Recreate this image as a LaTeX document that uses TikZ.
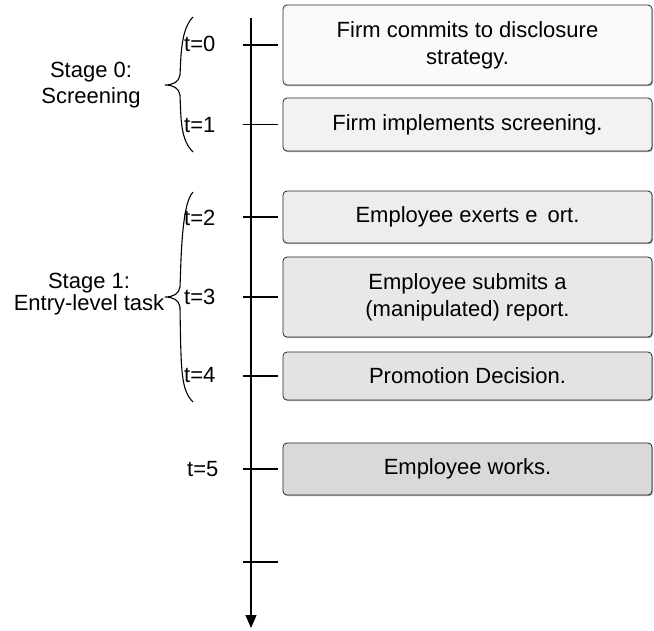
\documentclass[tikz,border=0pt]{standalone}
\usepackage{fontspec}
\setmainfont{Liberation Sans}
\usetikzlibrary{arrows.meta,shadows}
\tikzset{
  event/.style={draw=black!85, line width=0.8pt, rounded corners=4pt,
    minimum width=369pt, align=center, inner sep=0pt,
    font=\fontsize{22}{27}\selectfont,
    drop shadow={shadow xshift=1pt,shadow yshift=-1.2pt,fill=black!55,opacity=0.6}},
  tickline/.style={line width=1.3pt},
  stagebrace/.style={line width=1.1pt},
  time/.style={anchor=west, inner sep=0pt}
}
% curly brace: x of the ends, top, tip, bottom
\newcommand{\stagebrace}[4]{%
  \draw[stagebrace] (#1,#2) .. controls (#1-12,#2+12) and (#1-12,#3-30) .. (#1-13,#3-10)
    .. controls (#1-14,#3-3) and (#1-20,#3) .. (#1-28,#3)
    .. controls (#1-20,#3) and (#1-14,#3+3) .. (#1-13,#3+10)
    .. controls (#1-12,#4-30) and (#1-12,#4-12) .. (#1,#4);}
\begin{document}
\begin{tikzpicture}[x=1pt,y=-1pt,font=\fontsize{22}{26}\selectfont]
\useasboundingbox (0,0) rectangle (654,630);
% time axis
\coordinate (top) at (251,18);
\coordinate (bottom) at (251,628);
\draw[line width=1.3pt,-{Triangle[length=13pt,width=11pt]}] (top) -- (bottom);
% events
\node[event, fill=black!2, minimum height=80pt] (b0) at (467.5,45) {Firm commits to disclosure\\strategy.};
\node[event, fill=black!5, minimum height=53pt] (b1) at (467.5,124.5) {Firm implements screening.};
\node[event, fill=black!7, minimum height=52pt] (b2) at (467.5,217) {Employee exerts e\hspace{0.45em}ort.};
\node[event, fill=black!9, minimum height=80pt] (b3) at (467.5,297) {Employee submits a\\(manipulated) report.};
\node[event, fill=black!11, minimum height=48pt] (b4) at (467.5,376) {Promotion Decision.};
\node[event, fill=black!15, minimum height=52pt] (b5) at (467.5,469) {Employee works.};
\coordinate (end) at (278,562);
% ticks
\draw[tickline] ([xshift=-40pt]b0.west) -- ([xshift=-5pt]b0.west);
\draw[tickline] ([xshift=-40pt]b1.west) -- ([xshift=-5pt]b1.west);
\draw[tickline] ([xshift=-40pt]b2.west) -- ([xshift=-5pt]b2.west);
\draw[tickline] ([xshift=-40pt]b3.west) -- ([xshift=-5pt]b3.west);
\draw[tickline] ([xshift=-40pt]b4.west) -- ([xshift=-5pt]b4.west);
\draw[tickline] ([xshift=-40pt]b5.west) -- ([xshift=-5pt]b5.west);
\draw[tickline] ([xshift=-35pt]end) -- (end);
% dates
\node[time] (t0) at (184,44) {t=0};
\node[time] (t1) at (184,125) {t=1};
\node[time] (t2) at (184,218) {t=2};
\node[time] (t3) at (184,297) {t=3};
\node[time] (t4) at (184,375) {t=4};
\node[time] (t5) at (187,469) {t=5};
% stages
\stagebrace{193}{17}{85}{152}
\stagebrace{193}{192}{297}{402}
\node[align=center] (s0) at (91,85) {Stage 0:\\Screening};
\node[align=center, font=\fontsize{22}{20}\selectfont] (s1) at (89,294) {Stage 1:\\Entry-level task};
\end{tikzpicture}
\end{document}
